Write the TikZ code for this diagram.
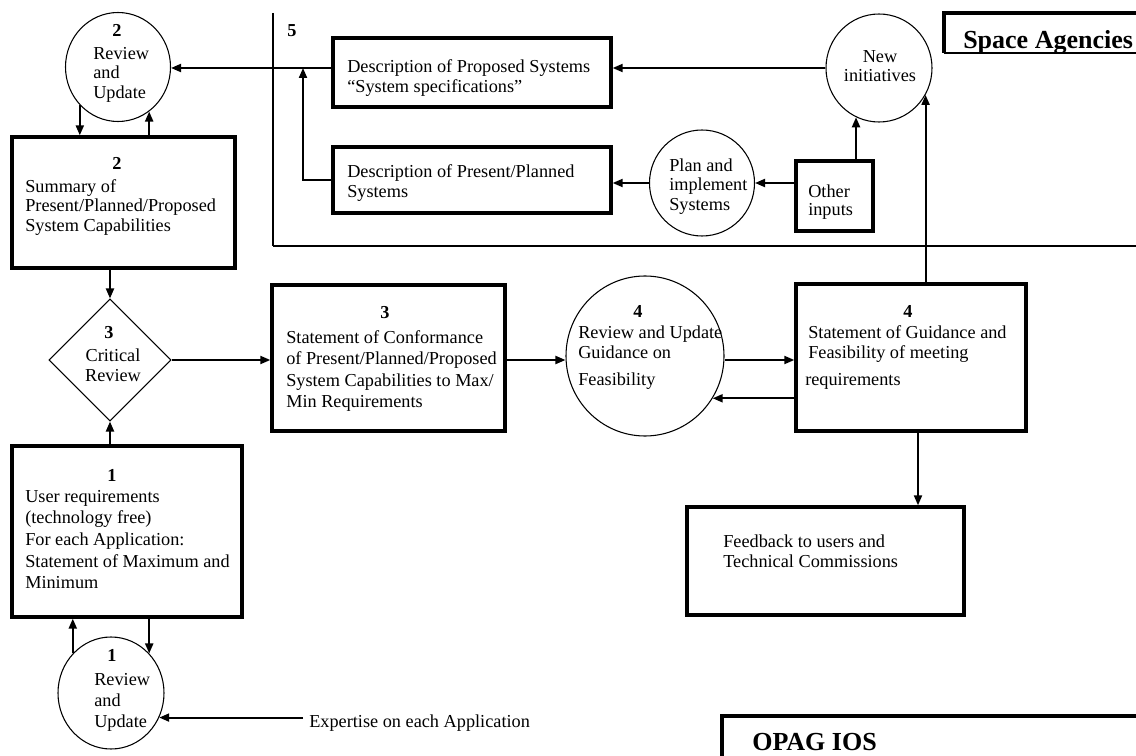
\documentclass[tikz,border=0pt]{standalone}
\usepackage{fontspec}
\setmainfont{Liberation Serif}
\usetikzlibrary{shapes.geometric,arrows.meta,calc}
\newcommand{\mystrut}{\rule{0pt}{11pt}}
\begin{document}
\begin{tikzpicture}[x=0.75pt,y=-0.75pt,
  box/.style={draw, line width=2.5pt, inner sep=0pt},
  circ/.style={draw, ellipse, line width=0.8pt, inner sep=0pt},
  arr/.style={line width=1.5pt, -{Triangle[length=7.5pt,width=6pt]}},
  txt/.style={inner sep=0pt, anchor=north west, align=left, font=\fontsize{13.7}{#1}\selectfont},
  txt/.default=15pt,
  ctxt/.style={inner sep=0pt, anchor=north, align=center, font=\fontsize{13.7}{#1}\selectfont},
  ctxt/.default=15pt,
  num/.style={inner sep=0pt, anchor=base, font=\fontsize{13.7}{15}\selectfont\bfseries},
  big/.style={inner sep=0pt, anchor=base west, font=\fontsize{19.5}{22}\selectfont\bfseries}]
\fill[white] (0,0) rectangle (1136,756);
\useasboundingbox (0,0) rectangle (1136,756);

% region 5 frame
\draw[line width=1.3pt] (273,13) -- (273,246);
\draw[line width=0.9pt] (273,246) -- (1140,246);
\node[num, anchor=base west] (r5) at (287,37) {5};

% Space Agencies / OPAG IOS frames
\draw[line width=2.5pt] (1140,13) -- (944,13) -- (944,53);
\draw[line width=1.5pt] (944,53) -- (1140,53);
\node[big] (sat) at (963,49) {Space Agencies};
\draw[line width=2.5pt] (1140,716) -- (722,716) -- (722,760);
\node[big] (opt) at (752,750) {OPAG IOS};

% shapes
\node[circ, minimum width=78.75pt, minimum height=81.75pt] (c2) at (118,67) {};
\node[box, minimum width=167.25pt, minimum height=98.25pt] (sum) at (123.5,202.5) {};
\node[draw, diamond, line width=0.8pt, inner sep=0pt, minimum width=91.5pt, minimum height=91.5pt] (dia) at (110,360) {};
\node[box, minimum width=172.5pt, minimum height=128.25pt] (b1) at (127,531.5) {};
\node[circ, minimum width=79.5pt, minimum height=84pt] (c1) at (111,693) {};
\node[box, minimum width=174.75pt, minimum height=109.5pt] (b3) at (388.5,358) {};
\node[circ, minimum width=118.5pt, minimum height=120pt] (c4) at (645,356) {};
\node[box, minimum width=172.5pt, minimum height=110.25pt] (b4) at (911,357.5) {};
\node[box, minimum width=207.75pt, minimum height=81pt] (fb) at (825.5,561) {};
\node[box, minimum width=208.5pt, minimum height=51.75pt] (prop) at (472,72.5) {};
\node[box, minimum width=208.5pt, minimum height=49.5pt] (pres) at (472,180) {};
\node[circ, minimum width=78.75pt, minimum height=79.5pt] (plan) at (702,183) {};
\node[circ, minimum width=79.5pt, minimum height=81pt] (ni) at (879,68) {};
\node[box, minimum width=57.75pt, minimum height=52.5pt] (oth) at (834.5,196) {};

% texts
\node[num] (c2n) at (117,37) {2};
\node[txt=14.6pt] (c2t) at (93,44.3) {\mystrut Review\\and\\Update};
\node[num] (sumn) at (117,170) {2};
\node[txt=14.6pt] (sumt) at (25,177.3) {\mystrut Summary of\\Present/Planned/Proposed\\System Capabilities};
\node[num] (dian) at (109,339) {3};
\node[ctxt] (diat) at (113,346.3) {\mystrut Critical\\Review};
\node[num] (b1n) at (112,481) {1};
\node[txt=16.2pt] (b1t) at (25,487.3) {\mystrut User requirements\\(technology free)\\For each Application:\\Statement of Maximum and\\Minimum};
\node[num] (c1n) at (112,661) {1};
\node[txt=15.75pt] (c1t) at (94,670.3) {\mystrut Review\\and\\Update};
\node[num] (b3n) at (385,318) {3};
\node[txt=16.1pt] (b3t) at (286,328.3) {\mystrut Statement of Conformance\\of Present/Planned/Proposed\\System Capabilities to Max/\\Min Requirements};
\node[num] (c4n) at (638,317) {4};
\node[txt] (c4t) at (578,323.3) {\mystrut Review and Update\\Guidance on\\[5.25pt]Feasibility};
\node[num] (b4n) at (908,317) {4};
\node[txt] (b4t) at (808,323.3) {\mystrut Statement of Guidance and\\Feasibility of meeting\\[5.25pt]\hspace*{-2.25pt}requirements};
\node[txt] (fbt) at (723,532.3) {\mystrut Feedback to users and\\Technical Commissions};
\node[txt] (propt) at (347,57.3) {\mystrut Description of Proposed Systems\\“System specifications”};
\node[txt] (prest) at (347,162.3) {\mystrut Description of Present/Planned\\Systems};
\node[txt=14.6pt] (plant) at (669,156.3) {\mystrut Plan and\\implement\\Systems};
\node[ctxt=14.6pt] (nit) at (880,47.3) {\mystrut New\\initiatives};
\node[txt=13.5pt] (otht) at (808,182.3) {\mystrut Other\\inputs};
\node[anchor=base west, inner ysep=0pt, inner xsep=4.5pt, font=\fontsize{13.7}{15}\selectfont] (exp) at (303,727) {Expertise on each Application};

% connectors
\coordinate (j) at (303,68);
\coordinate (b4s) at ($(b4.south)+(7,0)$);
\draw[arr] (ni.west) -- (ni.west -| prop.east);
\draw[arr] (ni.west -| prop.west) -- (ni.west -| c2.east);
\draw[arr] (pres.west) -| (j);
\draw[arr] (plan.west) -- (plan.west -| pres.east);
\draw[arr] (oth.west |- plan.east) -- (plan.east);
\draw[arr] (ni.245 |- oth.north) -- (ni.245);
\draw[arr] (ni.330 |- b4.north) -- (ni.330);
\draw[arr] (c2.225) -- (c2.225 |- sum.north);
\draw[arr] (c2.305 |- sum.north) -- (c2.305);
\draw[arr] (dia.north |- sum.south) -- (dia.north);
\draw[arr] (dia.south |- b1.north) -- (dia.south);
\draw[arr] (dia.east) -- (dia.east -| b3.west);
\draw[arr] (dia.east -| b3.east) -- (dia.east -| c4.west);
\draw[arr] (dia.east -| c4.east) -- (dia.east -| b4.west);
\draw[arr] (c4.328 -| b4.west) -- (c4.328);
\draw[arr] (b4s) -- (b4s |- fb.north);
\draw[arr] (c1.134) -- (c1.134 |- b1.south);
\draw[arr] (c1.46 |- b1.south) -- (c1.46);
\draw[arr] (c1.333 -| exp.west) -- (c1.333);
\end{tikzpicture}
\end{document}
